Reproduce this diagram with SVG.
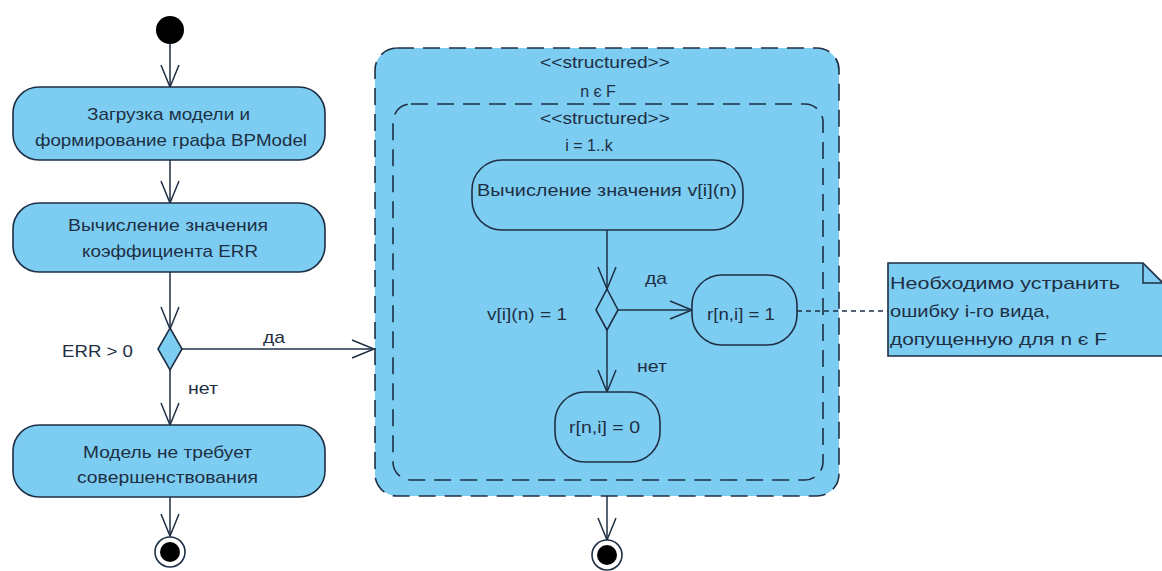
<svg xmlns="http://www.w3.org/2000/svg" width="1162" height="571" viewBox="0 0 1162 571">
<style>
.t{font-family:"Liberation Sans",Arial,sans-serif;font-size:17px;fill:#1e2f44;}
.m{text-anchor:middle;font-size:16px;}
.node{fill:#7dcdf2;stroke:#1e2f44;stroke-width:1.6;}
.line{fill:none;stroke:#1e2f44;stroke-width:1.5;}
.dash{fill:none;stroke:#1e2f44;stroke-width:1.6;stroke-dasharray:17 9;}
</style>
<defs>
<marker id="arr" markerUnits="userSpaceOnUse" viewBox="-24 -12 26 24" markerWidth="26" markerHeight="24" refX="0" refY="0" orient="auto" overflow="visible">
<path d="M-22,-9 L0,0 L-22,9" fill="none" stroke="#1e2f44" stroke-width="1.5"/>
</marker>
</defs>
<rect width="1162" height="571" fill="#ffffff"/>

<g id="container-outer">
<rect x="375" y="48" width="464" height="448" rx="22" fill="#7dcdf2" stroke="#1e2f44" stroke-width="1.6" stroke-dasharray="17 9"/>
<text class="t" x="540" y="68" textLength="130" lengthAdjust="spacingAndGlyphs">&lt;&lt;structured&gt;&gt;</text>
<text class="t m" x="598" y="97">n є F</text>
</g>
<g id="container-inner">
<rect x="393" y="104" width="430" height="376" rx="18" class="dash"/>
<text class="t" x="540" y="124" textLength="130" lengthAdjust="spacingAndGlyphs">&lt;&lt;structured&gt;&gt;</text>
<text class="t m" x="589" y="151">i = 1..k</text>
</g>

<g id="connectors">
<path class="line" d="M170,44 V87" marker-end="url(#arr)"/>
<path class="line" d="M170,160 V203" marker-end="url(#arr)"/>
<path class="line" d="M170,272 V329" marker-end="url(#arr)"/>
<path class="line" d="M182,349 H374" marker-end="url(#arr)"/>
<path class="line" d="M170,370 V425" marker-end="url(#arr)"/>
<path class="line" d="M170,497 V536" marker-end="url(#arr)"/>
<path class="line" d="M607,230 V289" marker-end="url(#arr)"/>
<path class="line" d="M618,310 H692" marker-end="url(#arr)"/>
<path class="line" d="M607,330 V392" marker-end="url(#arr)"/>
<path class="line" d="M607,496 V540" marker-end="url(#arr)"/>
<path class="line" d="M797,311 H888" stroke-dasharray="5 4"/>
<text class="t" x="263" y="343" textLength="22" lengthAdjust="spacingAndGlyphs">да</text>
<text class="t" x="188" y="394" textLength="30" lengthAdjust="spacingAndGlyphs">нет</text>
<text class="t" x="645" y="284" textLength="22" lengthAdjust="spacingAndGlyphs">да</text>
<text class="t" x="637" y="372" textLength="30" lengthAdjust="spacingAndGlyphs">нет</text>
</g>

<g id="start"><circle cx="170" cy="30" r="14" fill="#000"/></g>

<g id="load"><rect class="node" x="13" y="87" width="312" height="73" rx="26"/>
<text class="t" x="87" y="120" textLength="163" lengthAdjust="spacingAndGlyphs">Загрузка модели и</text>
<text class="t" x="35" y="146" textLength="272" lengthAdjust="spacingAndGlyphs">формирование графа BPModel</text></g>

<g id="calc-err"><rect class="node" x="13" y="203" width="312" height="69" rx="26"/>
<text class="t" x="68" y="231" textLength="200" lengthAdjust="spacingAndGlyphs">Вычисление значения</text>
<text class="t" x="82" y="257" textLength="176" lengthAdjust="spacingAndGlyphs">коэффициента ERR</text></g>

<g id="decision-err"><path class="node" d="M170,328 L182,349 L170,370 L158,349 Z"/>
<text class="t" x="62" y="357" textLength="71" lengthAdjust="spacingAndGlyphs">ERR &gt; 0</text></g>

<g id="no-improve"><rect class="node" x="13" y="425" width="312" height="72" rx="26"/>
<text class="t" x="83" y="458" textLength="169" lengthAdjust="spacingAndGlyphs">Модель не требует</text>
<text class="t" x="77" y="483" textLength="181" lengthAdjust="spacingAndGlyphs">совершенствования</text></g>

<g id="end-left"><circle cx="170" cy="552" r="15" fill="#fff" stroke="#1e2f44" stroke-width="1.6"/><circle cx="170" cy="552" r="10" fill="#000"/></g>

<g id="calc-v"><rect class="node" x="472" y="160" width="271" height="70" rx="30"/>
<text class="t" x="477" y="196" textLength="260" lengthAdjust="spacingAndGlyphs">Вычисление значения v[i](n)</text></g>

<g id="decision-v"><path class="node" d="M607,289 L618,310 L607,330 L596,310 Z"/>
<text class="t" x="487" y="320" textLength="80" lengthAdjust="spacingAndGlyphs">v[i](n) = 1</text></g>

<g id="r1"><rect class="node" x="692" y="275" width="105" height="70" rx="30"/>
<text class="t" x="707" y="320" textLength="68" lengthAdjust="spacingAndGlyphs">r[n,i] = 1</text></g>

<g id="r0"><rect class="node" x="555" y="392" width="105" height="70" rx="30"/>
<text class="t" x="569" y="433" textLength="71" lengthAdjust="spacingAndGlyphs">r[n,i] = 0</text></g>

<g id="end-right"><circle cx="607" cy="555" r="15" fill="#fff" stroke="#1e2f44" stroke-width="1.6"/><circle cx="607" cy="555" r="10" fill="#000"/></g>

<g id="note"><path class="node" d="M888,263 H1143 L1163,283 V356 H888 Z"/>
<path class="line" d="M1143,263 V283 H1163"/>
<text class="t" x="890" y="289" textLength="230" lengthAdjust="spacingAndGlyphs">Необходимо устранить</text>
<text class="t" x="890" y="317" textLength="160" lengthAdjust="spacingAndGlyphs">ошибку i-го вида,</text>
<text class="t" x="890" y="345" textLength="217" lengthAdjust="spacingAndGlyphs">допущенную для n є F</text></g>
</svg>
